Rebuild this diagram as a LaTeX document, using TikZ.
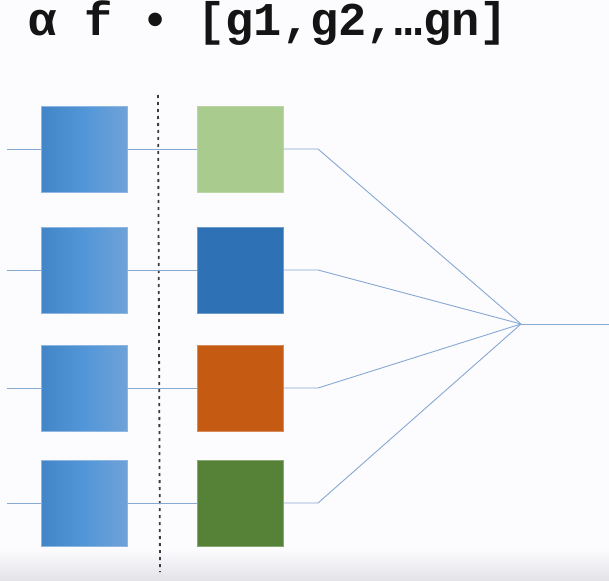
\documentclass[tikz,border=0pt]{standalone}
\usepackage{fontspec}
\setmonofont{Liberation Mono}
\begin{document}
\begin{tikzpicture}[x=1pt,y=-1pt,
  wire/.style={draw=wirec,line width=0.9pt},
  lbox/.style={minimum width=86pt,minimum height=86pt,inner sep=0pt,draw=lborder,line width=0.8pt,left color=lblueA,right color=lblueB,middle color=lblueM},
  rbox/.style={minimum width=86pt,minimum height=86pt,inner sep=0pt,line width=0.8pt},
  sep/.style={draw=sepc,line width=1.8pt,dash pattern=on 3pt off 4pt}
]
\definecolor{bg}{HTML}{FCFBFE}
\definecolor{wirec}{HTML}{86A9D3}
\definecolor{lborder}{HTML}{8DB6E2}
\definecolor{lblueA}{HTML}{4286C8}
\definecolor{lblueM}{HTML}{5296D8}
\definecolor{lblueB}{HTML}{6FA2D8}
\definecolor{sepc}{HTML}{3A3A40}
\definecolor{gA}{HTML}{A9CC8E}
\definecolor{bA}{HTML}{2E71B4}
\definecolor{oA}{HTML}{C55A13}
\definecolor{dA}{HTML}{558236}
\definecolor{shade}{HTML}{E4E4E8}
\useasboundingbox (0,0) rectangle (609,580);
\fill[bg] (0,0) rectangle (609,580);
\shade[top color=bg,bottom color=shade] (0,548) rectangle (609,580);
\node[anchor=base west,inner sep=0pt,text=black!92] (title) at (28,36)
  {\fontsize{47}{52}\selectfont\ttfamily\bfseries α f • [g1,g2,…gn]};
% separator
\coordinate (T) at (158,95);
\coordinate (U) at (160,572);
\draw[sep] (T) -- (U);
% anchors
\foreach \i/\y in {1/149,2/270,3/388,4/503}{
  \coordinate (S\i) at (7,\y);
  \coordinate (B\i) at (318,\y);
}
\coordinate (J) at (521,324);
\coordinate (E) at (609,324);
% boxes
\node[lbox] (L1) at (84,149.5) {};
\node[lbox] (L2) at (84,270) {};
\node[lbox] (L3) at (84,388) {};
\node[lbox] (L4) at (84,503) {};
\node[rbox,fill=gA,draw=gA!80!white] (R1) at (240,149.5) {};
\node[rbox,fill=bA,draw=bA!70!white] (R2) at (240,270) {};
\node[rbox,fill=oA,draw=oA!70!white] (R3) at (240,388) {};
\node[rbox,fill=dA,draw=dA!70!white] (R4) at (240,503) {};
% wires
\foreach \i in {1,2,3,4}{
  \draw[wire] (S\i) -- (L\i.west |- S\i);
  \draw[wire] (L\i.east |- S\i) -- (R\i.west |- S\i);
  \draw[wire] (R\i.east |- S\i) -- (B\i) -- (J);
}
\draw[wire] (J) -- (E);
\end{tikzpicture}
\end{document}
